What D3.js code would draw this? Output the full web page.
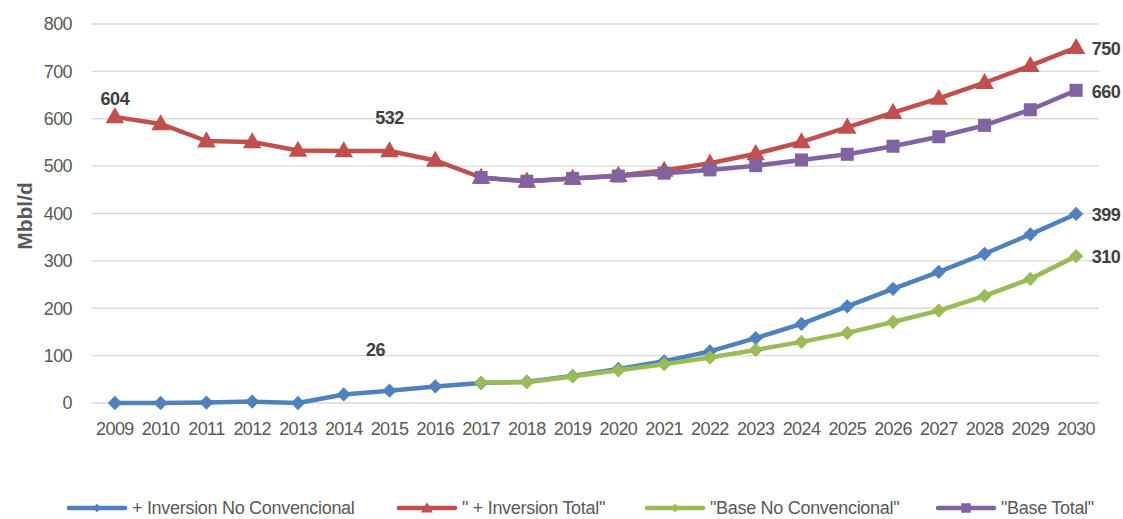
<!DOCTYPE html>
<html>
<head>
<meta charset="utf-8">
<script src="https://cdn.jsdelivr.net/npm/d3@7/dist/d3.min.js"></script>
<style>
  body { margin: 0; background: #fff; }
  svg text { font-family: 'Liberation Sans', Arial, sans-serif; }
</style>
</head>
<body>
<svg id="chart" width="1123" height="519"></svg>
<script>
'use strict'

const years = d3.range(2009, 2031).map(String)
const yTicks = [0, 100, 200, 300, 400, 500, 600, 700, 800]

const inversionNoConv = [0, 0, 1, 3, 0, 18, 26, 35, 42, 45, 57, 72, 88, 109, 137, 167, 204, 241, 277, 315, 356, 399]
const inversionTotal = [604, 589, 553, 551, 533, 532, 532, 512, 476, 468, 474, 480, 491, 506, 526, 551, 582, 613, 643, 676, 712, 750]
const baseNoConv = [null, null, null, null, null, null, null, null, 43, 44, 56, 69, 82, 96, 112, 129, 148, 171, 195, 226, 262, 310]
const baseTotal = [null, null, null, null, null, null, null, null, 476, 468, 474, 479, 485, 492, 501, 513, 525, 542, 562, 586, 619, 660]

const series = [
  {name: '+ Inversion No Convencional', values: inversionNoConv, color: '#4f81bd', marker: 'diamond'},
  {name: '" + Inversion Total"', values: inversionTotal, color: '#c0504d', marker: 'triangle'},
  {name: '"Base No Convencional"', values: baseNoConv, color: '#9bbb59', marker: 'diamond'},
  {name: '"Base Total"', values: baseTotal, color: '#8064a2', marker: 'square'}
]

// point labels: [series index, year, dx, dy]
const labels = [
  [1, '2009', 0, -18],
  [1, '2015', 0, -33],
  [0, '2015', -14, -41],
  [1, '2030', 30, 1],
  [3, '2030', 30, 1],
  [0, '2030', 30, 1],
  [2, '2030', 30, 1]
]

const svg = d3.select('#chart')
const m = {left: 92, right: 1099, top: 24, bottom: 403}

const x = d3.scaleBand().domain(years).range([m.left, m.right])
const y = d3.scaleLinear().domain([0, 800]).range([m.bottom, m.top])
const cx = d => x(d) + x.bandwidth() / 2

const symbols = {
  diamond: d3.symbol().type(d3.symbolDiamond2).size(130),
  triangle: d3.symbol().type(d3.symbolTriangle).size(150),
  square: d3.symbol().type(d3.symbolSquare).size(170)
}
const legendSymbols = {
  diamond: d3.symbol().type(d3.symbolDiamond2).size(45),
  triangle: d3.symbol().type(d3.symbolTriangle).size(60),
  square: d3.symbol().type(d3.symbolSquare).size(90)
}

// grid
svg.append('g').selectAll('line').data(yTicks).join('line')
  .attr('x1', m.left).attr('x2', m.right)
  .attr('y1', d => y(d)).attr('y2', d => y(d))
  .attr('stroke', '#d9d9d9').attr('stroke-width', 1.3)

// y axis
const yAxis = d3.axisLeft(y).tickValues(yTicks).tickSize(0).tickPadding(20)
svg.append('g').attr('transform', `translate(${m.left},0)`).call(yAxis)
  .call(g => g.select('.domain').remove())
  .selectAll('text').attr('font-size', 18).attr('fill', '#595959')
    .attr('letter-spacing', '-0.6px')
    .style('font-family', "'Liberation Sans', Arial, sans-serif")

// x axis
const xAxis = d3.axisBottom(x).tickSize(0).tickPadding(19)
svg.append('g').attr('transform', `translate(0,${m.bottom})`).call(xAxis)
  .call(g => g.select('.domain').remove())
  .selectAll('text').attr('font-size', 18).attr('fill', '#595959')
    .attr('letter-spacing', '-0.6px')
    .style('font-family', "'Liberation Sans', Arial, sans-serif")

svg.append('text')
  .attr('transform', `translate(32,216) rotate(-90)`)
  .attr('text-anchor', 'middle')
  .attr('font-size', 21).attr('font-weight', 'bold').attr('fill', '#595959')
  .text('Mbbl/d')

const line = d3.line()
  .defined(d => d.v !== null)
  .x(d => cx(d.year))
  .y(d => y(d.v))

series.forEach(function (s) {
  const pts = years.map((yr, i) => ({year: yr, v: s.values[i]}))
  const g = svg.append('g')
  g.append('path').datum(pts)
    .attr('d', line)
    .attr('fill', 'none').attr('stroke', s.color)
    .attr('stroke-width', 4.5).attr('stroke-linejoin', 'round')
  g.selectAll('path.m').data(pts.filter(d => d.v !== null)).join('path')
    .attr('class', 'm')
    .attr('d', symbols[s.marker])
    .attr('transform', d => `translate(${cx(d.year)},${y(d.v) + (s.marker === 'triangle' ? 1 : 0)})`)
    .attr('fill', s.color)
})

// data labels
svg.append('g').selectAll('text').data(labels).join('text')
  .attr('x', d => cx(d[1]) + d[2])
  .attr('y', d => y(series[d[0]].values[years.indexOf(d[1])]) + d[3])
  .attr('dy', '0.35em')
  .attr('text-anchor', 'middle')
  .attr('font-size', 18).attr('font-weight', 'bold').attr('fill', '#404040')
  .attr('letter-spacing', '-0.5px')
  .text(d => series[d[0]].values[years.indexOf(d[1])])

// legend
const legendX = [69, 399, 647, 938]
const legend = svg.append('g').attr('transform', 'translate(0,508)')
series.forEach(function (s, i) {
  const g = legend.append('g').attr('transform', `translate(${legendX[i]},0)`)
  g.append('line').attr('x1', 0).attr('x2', 56)
    .attr('stroke', s.color).attr('stroke-width', 4.5).attr('stroke-linecap', 'round')
  g.append('path').attr('d', legendSymbols[s.marker])
    .attr('transform', `translate(28,${s.marker === 'triangle' ? 1 : 0})`)
    .attr('fill', s.color)
  g.append('text').attr('x', 63).attr('dy', '0.35em')
    .attr('font-size', 18).attr('fill', '#595959')
    .attr('letter-spacing', '-0.3px')
    .text(s.name)
})
</script>
</body>
</html>
